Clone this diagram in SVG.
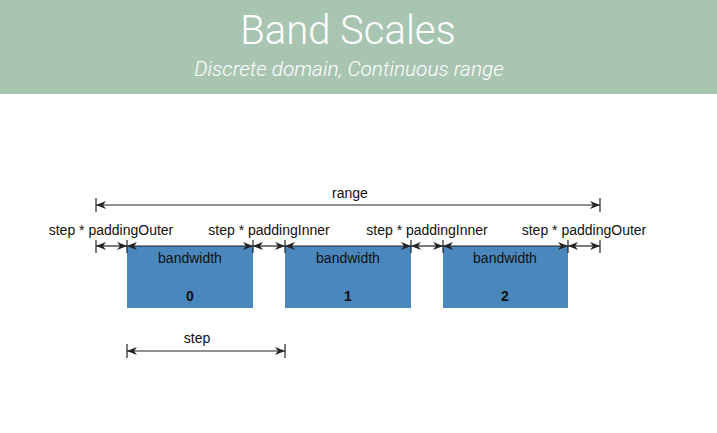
<svg xmlns="http://www.w3.org/2000/svg" width="717" height="433" viewBox="0 0 717 433">
  <style>
    .title { font-family: Roboto, "Liberation Sans", Arial, sans-serif; font-weight: 300; fill: #ffffff; text-anchor: middle; }
    .lbl { font-family: "Liberation Sans", Arial, sans-serif; font-size: 14px; fill: #111111; text-anchor: middle; }
    .num { font-family: "Liberation Sans", Arial, sans-serif; font-size: 14px; font-weight: bold; fill: #111111; text-anchor: middle; }
    .band { fill: #4a87bd; }
    .dim { stroke: #222222; stroke-width: 1.2; fill: none; }
    .tick { stroke: #222222; stroke-width: 1.2; }
  </style>
  <defs>
    <marker id="ah" viewBox="0 0 10 8" refX="10" refY="4" markerWidth="10" markerHeight="8" markerUnits="userSpaceOnUse" orient="auto-start-reverse">
      <path d="M0,0 L10,4 L0,8 L3,4 Z" fill="#222222"/>
    </marker>
  </defs>

  <rect x="0" y="0" width="717" height="94" fill="#a8c5b2"/>
  <text class="title" x="348" y="44" font-size="40">Band Scales</text>
  <text class="title" x="349" y="76" font-size="20.8" font-style="italic">Discrete domain, Continuous range</text>

  <g id="band0">
    <rect class="band" x="127" y="246" width="126" height="62"/>
    <text class="lbl" x="190" y="263">bandwidth</text>
    <text class="num" x="190" y="301">0</text>
  </g>
  <g id="band1">
    <rect class="band" x="285" y="246" width="126" height="62"/>
    <text class="lbl" x="348" y="263">bandwidth</text>
    <text class="num" x="348" y="301">1</text>
  </g>
  <g id="band2">
    <rect class="band" x="443" y="246" width="125" height="62"/>
    <text class="lbl" x="505" y="263">bandwidth</text>
    <text class="num" x="505" y="301">2</text>
  </g>

  <g id="labels">
    <text class="lbl" x="350" y="198">range</text>
    <text class="lbl" x="111" y="235">step * paddingOuter</text>
    <text class="lbl" x="269" y="235">step * paddingInner</text>
    <text class="lbl" x="427" y="235">step * paddingInner</text>
    <text class="lbl" x="584" y="235">step * paddingOuter</text>
    <text class="lbl" x="197" y="343">step</text>
  </g>

  <g id="connectors">
    <!-- range -->
    <line class="tick" x1="96" y1="198" x2="96" y2="212"/>
    <line class="tick" x1="600" y1="198" x2="600" y2="212"/>
    <line class="dim" x1="96" y1="205" x2="600" y2="205" marker-start="url(#ah)" marker-end="url(#ah)"/>

    <!-- padding / bandwidth row -->
    <line class="tick" x1="96" y1="240" x2="96" y2="253"/>
    <line class="tick" x1="127" y1="240" x2="127" y2="253"/>
    <line class="tick" x1="253" y1="240" x2="253" y2="253"/>
    <line class="tick" x1="285" y1="240" x2="285" y2="253"/>
    <line class="tick" x1="411" y1="240" x2="411" y2="253"/>
    <line class="tick" x1="443" y1="240" x2="443" y2="253"/>
    <line class="tick" x1="568" y1="240" x2="568" y2="253"/>
    <line class="tick" x1="600" y1="240" x2="600" y2="253"/>
    <line class="dim" x1="96" y1="246" x2="127" y2="246" marker-start="url(#ah)" marker-end="url(#ah)"/>
    <line class="dim" x1="127" y1="246" x2="253" y2="246" marker-start="url(#ah)" marker-end="url(#ah)"/>
    <line class="dim" x1="253" y1="246" x2="285" y2="246" marker-start="url(#ah)" marker-end="url(#ah)"/>
    <line class="dim" x1="285" y1="246" x2="411" y2="246" marker-start="url(#ah)" marker-end="url(#ah)"/>
    <line class="dim" x1="411" y1="246" x2="443" y2="246" marker-start="url(#ah)" marker-end="url(#ah)"/>
    <line class="dim" x1="443" y1="246" x2="568" y2="246" marker-start="url(#ah)" marker-end="url(#ah)"/>
    <line class="dim" x1="568" y1="246" x2="600" y2="246" marker-start="url(#ah)" marker-end="url(#ah)"/>

    <!-- step -->
    <line class="tick" x1="127" y1="344" x2="127" y2="358"/>
    <line class="tick" x1="285" y1="344" x2="285" y2="358"/>
    <line class="dim" x1="127" y1="351" x2="285" y2="351" marker-start="url(#ah)" marker-end="url(#ah)"/>
  </g>
</svg>
